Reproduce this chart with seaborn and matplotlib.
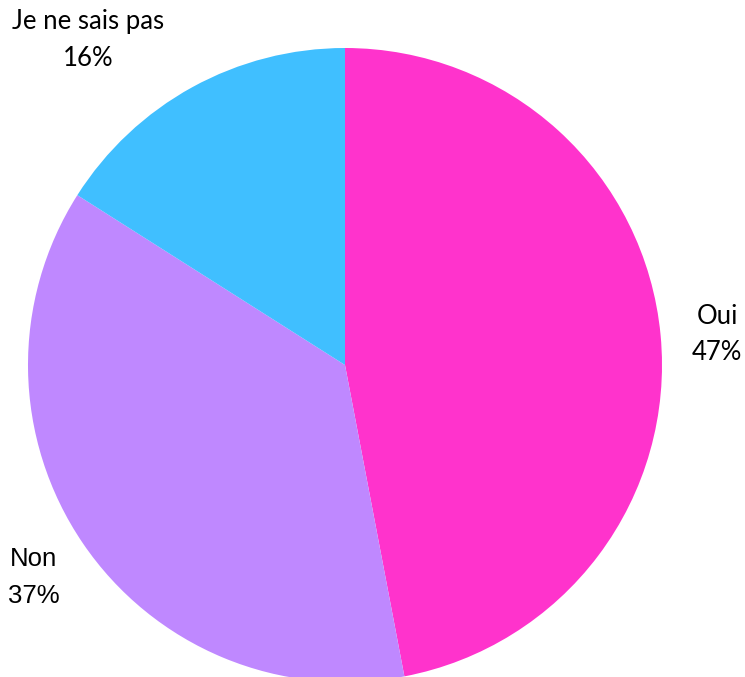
import matplotlib
matplotlib.use("Agg")
import matplotlib.pyplot as plt
import seaborn as sns

sns.set_theme(style="white")
plt.rcParams['font.family'] = ['Lato', 'DejaVu Sans']

# data
labels = ["Oui", "Non", "Je ne sais pas"]
shares = [47, 37, 16]
colors = ["#FF33CC", "#BF88FF", "#40BFFF"]

fig = plt.figure(figsize=(7.45, 6.77), dpi=100)
ax = fig.add_axes([0, 0, 1, 1])

cx, cy, r = 345, 677 - 365, 317
ax.pie(shares, colors=colors, startangle=90, counterclock=False,
       center=(cx, cy), radius=r, frame=True,
       wedgeprops=dict(linewidth=0))
ax.set_xlim(0, 745)
ax.set_ylim(0, 677)
ax.set_aspect("equal")
ax.axis("off")

# label positions (pixels from top)
label_pos = {"Oui": (717, 316), "Non": (34, 559), "Je ne sais pas": (88, 22)}
label_font = {"Oui": "Lato", "Non": "Liberation Sans", "Je ne sais pas": "Lato"}
label_size = {"Oui": 18.5, "Non": 18.5, "Je ne sais pas": 18.5}
for lab, val in zip(labels, shares):
    x, y = label_pos[lab]
    fam = [label_font[lab], "DejaVu Sans"]
    ax.text(x, 677 - y, lab, ha="center", va="center", fontsize=label_size[lab],
            color="black", family=fam)
    ax.text(x, 677 - y - 37, f"{val}%", ha="center", va="center",
            fontsize=label_size[lab], color="black", family=fam)

fig.savefig("out.png", dpi=100)
